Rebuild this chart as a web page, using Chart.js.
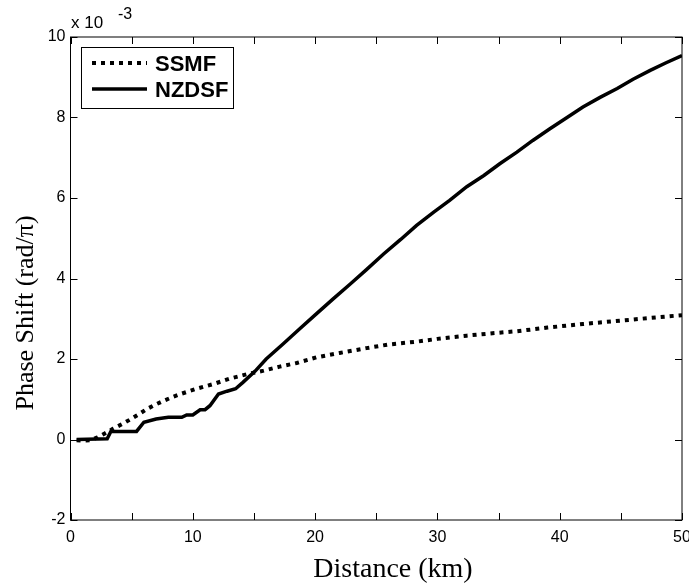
<!DOCTYPE html>
<html>
<head>
<meta charset="utf-8">
<title>Phase Shift vs Distance</title>
<script src="https://cdn.jsdelivr.net/npm/chart.js"></script>
<style>
  html, body { margin: 0; padding: 0; background: #fff; }
  #wrap { width: 689px; height: 583px; position: relative; }
</style>
</head>
<body>
<div id="wrap"><canvas id="myChart"></canvas></div>
<script>
// values are in units of 1e-3 (rad/pi)
const seriesNames = ['SSMF', 'NZDSF'];

const ssmfDistance = [0.5, 1.0, 1.6, 2.2, 2.8, 3.5, 4.2, 4.9, 5.6, 6.2, 6.9, 7.6, 8.3, 9.0, 10.3, 11.7, 13.0, 14.4, 15.8, 17.1, 18.5, 20.1, 22.0, 24.2, 26.0, 28.3, 30.0, 32.4, 34.5, 36.5, 39.0, 41.9, 44.5, 47.4, 50.0];
const ssmfShift = [-0.02, -0.03, -0.02, 0.05, 0.15, 0.27, 0.38, 0.5, 0.63, 0.75, 0.86, 0.96, 1.05, 1.13, 1.26, 1.38, 1.51, 1.62, 1.71, 1.81, 1.9, 2.04, 2.15, 2.27, 2.36, 2.43, 2.5, 2.58, 2.64, 2.69, 2.78, 2.87, 2.94, 3.02, 3.09];

const nzdsfDistance = [0.5, 3.0, 3.3, 5.4, 6.0, 7.0, 8.0, 9.1, 9.5, 10.0, 10.6, 11.0, 11.4, 12.1, 12.8, 13.5, 14.1, 15.1, 16.0, 17.4, 18.7, 20.1, 21.5, 22.9, 24.2, 25.6, 27.0, 28.3, 29.7, 31.0, 32.4, 33.8, 35.1, 36.5, 37.8, 39.2, 40.6, 41.9, 43.3, 44.7, 46.0, 47.4, 48.7, 50.0];
const nzdsfShift = [0.0, 0.02, 0.2, 0.2, 0.43, 0.51, 0.55, 0.55, 0.61, 0.61, 0.74, 0.74, 0.84, 1.13, 1.2, 1.26, 1.42, 1.7, 2.0, 2.38, 2.74, 3.12, 3.5, 3.87, 4.22, 4.61, 4.97, 5.32, 5.65, 5.94, 6.28, 6.56, 6.85, 7.14, 7.43, 7.72, 8.0, 8.26, 8.5, 8.72, 8.95, 9.17, 9.36, 9.54];

const xTicks = [0, 10, 20, 30, 40, 50];
const yTicks = [-2, 0, 2, 4, 6, 8, 10];
const xTitle = 'Distance (km)';
const yTitle = 'Phase Shift (rad/\u03c0)';

function toPoints(xs, ys) {
  return xs.map((x, i) => ({ x: x, y: ys[i] }));
}

// MATLAB style box, inward ticks, axis titles, exponent and legend
const matlabBox = {
  id: 'matlabBox',
  afterDraw(chart) {
    const ctx = chart.ctx;
    const a = chart.chartArea;
    const xs = chart.scales.x;
    const ys = chart.scales.y;
    ctx.save();
    ctx.strokeStyle = '#000';
    ctx.lineWidth = 1;
    ctx.strokeRect(a.left, a.top, a.right - a.left, a.bottom - a.top);

    const tl = 7;
    ctx.beginPath();
    for (let v = 0; v <= 50; v += 5) {
      const px = Math.round(xs.getPixelForValue(v)) + 0.5;
      ctx.moveTo(px, a.bottom); ctx.lineTo(px, a.bottom - tl);
      ctx.moveTo(px, a.top); ctx.lineTo(px, a.top + tl);
    }
    yTicks.forEach(v => {
      const py = Math.round(ys.getPixelForValue(v)) + 0.5;
      ctx.moveTo(a.left, py); ctx.lineTo(a.left + tl, py);
      ctx.moveTo(a.right, py); ctx.lineTo(a.right - tl, py);
    });
    ctx.stroke();

    ctx.fillStyle = '#000';

    // axis titles
    ctx.font = '28px "Liberation Serif", "Times New Roman", serif';
    ctx.textAlign = 'center';
    ctx.textBaseline = 'alphabetic';
    ctx.fillText(xTitle, 393, 577);
    ctx.save();
    ctx.translate(33, 313);
    ctx.rotate(-Math.PI / 2);
    ctx.font = '26px "Liberation Serif", "Times New Roman", serif';
    ctx.fillText(yTitle, 0, 0);
    ctx.restore();

    // x 10^-3
    ctx.font = '17px "Liberation Sans", Arial, sans-serif';
    ctx.textBaseline = 'middle';
    ctx.textAlign = 'left';
    ctx.fillText('x 10', 71, 23);
    ctx.font = '16px "Liberation Sans", Arial, sans-serif';
    ctx.fillText('-3', 118, 15);

    // legend
    const lx = 81, ly = 47, lw = 152, lh = 61;
    ctx.fillStyle = '#fff';
    ctx.fillRect(lx, ly, lw, lh);
    ctx.strokeRect(lx + 0.5, ly + 0.5, lw, lh);
    const rows = [63, 89];
    chart.data.datasets.forEach((ds, i) => {
      ctx.beginPath();
      ctx.lineWidth = ds.borderWidth;
      ctx.setLineDash(ds.borderDash || []);
      ctx.moveTo(92, rows[i]);
      ctx.lineTo(147, rows[i]);
      ctx.stroke();
      ctx.setLineDash([]);
      ctx.fillStyle = '#000';
      ctx.font = 'bold 22px "Liberation Sans", Arial, sans-serif';
      ctx.fillText(ds.label, 155, rows[i] + 2);
    });
    ctx.restore();
  }
};

const myChart = document.getElementById('myChart');

let lineChart = new Chart(myChart, {
  type: 'line',
  data: {
    datasets: [{
      label: seriesNames[0],
      data: toPoints(ssmfDistance, ssmfShift),
      borderColor: '#000',
      borderWidth: 4,
      borderDash: [4, 5],
      borderCapStyle: 'butt',
      pointRadius: 0,
      tension: 0
    }, {
      label: seriesNames[1],
      data: toPoints(nzdsfDistance, nzdsfShift),
      borderColor: '#000',
      borderWidth: 3.5,
      pointRadius: 0,
      tension: 0
    }]
  },
  options: {
    responsive: true,
    maintainAspectRatio: false,
    animation: false,
    layout: { padding: { left: 0, right: 7, top: 37, bottom: 0 } },
    plugins: {
      legend: { display: false },
      tooltip: { enabled: false }
    },
    scales: {
      x: {
        type: 'linear',
        min: 0,
        max: 50,
        grid: { display: false, drawTicks: false, tickLength: 0 },
        border: { display: false },
        afterBuildTicks: s => { s.ticks = xTicks.map(v => ({ value: v })); },
        afterFit: s => { s.height = 63; s.paddingLeft = 0; s.paddingRight = 0; },
        ticks: {
          color: '#000',
          padding: 8,
          maxRotation: 0,
          autoSkip: false,
          font: { family: '"Liberation Sans", Arial, sans-serif', size: 16 }
        }
      },
      y: {
        min: -2,
        max: 10,
        grid: { display: false, drawTicks: false, tickLength: 0 },
        border: { display: false },
        afterBuildTicks: s => { s.ticks = yTicks.map(v => ({ value: v })); },
        afterFit: s => { s.width = 70.5; s.paddingTop = 0; s.paddingBottom = 0; },
        ticks: {
          color: '#000',
          padding: 5,
          font: { family: '"Liberation Sans", Arial, sans-serif', size: 16 }
        }
      }
    }
  },
  plugins: [matlabBox]
});
console.log(lineChart.chartArea);
</script>
</body>
</html>
